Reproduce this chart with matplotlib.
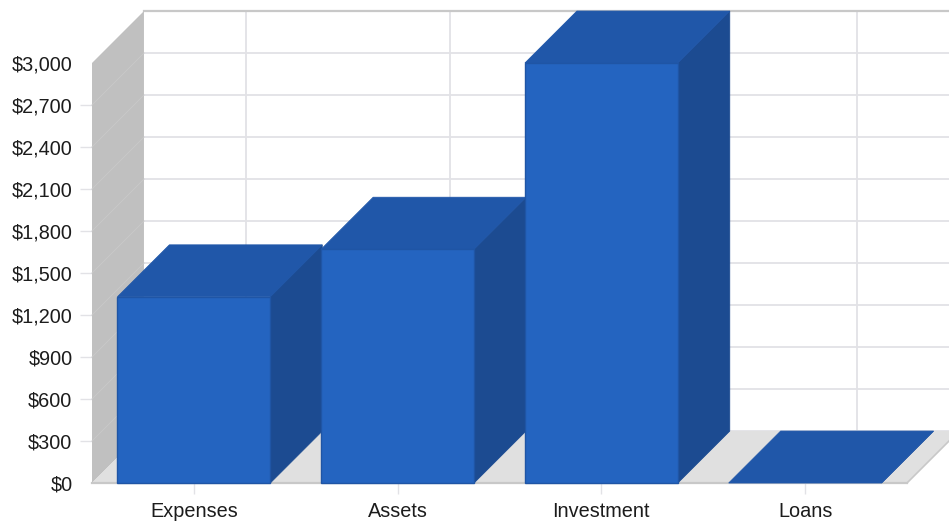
"""Pseudo-3D column chart of start-up figures in an oblique projection."""
import matplotlib
matplotlib.use("Agg")
import matplotlib.pyplot as plt

plt.rcParams["font.family"] = ["Liberation Sans", "DejaVu Sans"]

categories = ["Expenses", "Assets", "Investment", "Loans"]
values = [1330, 1670, 3000, 0]
y_ticks = [0, 300, 600, 900, 1200, 1500, 1800, 2100, 2400, 2700, 3000]

FRONT = "#2464c0"
TOP = "#2057a9"
SIDE = "#1c4b91"
EDGE = "#1f55a5"
WALL = "#c0c0c0"
WALL_LINE = "#c8c8c8"
FLOOR = "#e0e0e0"
GRID = "#e2e2e6"
AXIS = "#c8c8c8"

BAR_WIDTH = 0.75
# Oblique offset of the back plane, in data units.
DEPTH_X = 0.255
DEPTH_Y = 371


def main():
    W, H = 949, 524
    fig = plt.figure(figsize=(W / 100, H / 100), dpi=100, facecolor="white")
    ax = fig.add_axes([92 / W, (H - 483) / H, 815 / W, 420 / H])
    ax.set_xlim(-0.5, len(categories) - 0.5)
    ax.set_ylim(0, max(y_ticks))
    ax.patch.set_visible(False)
    for s in ax.spines.values():
        s.set_visible(False)

    x0, x1 = ax.get_xlim()
    y_top = max(y_ticks)

    # Back wall grid, then left wall and floor
    for v in y_ticks[:-1]:
        ax.plot([x0 + DEPTH_X, x1 + DEPTH_X], [v + DEPTH_Y] * 2, color=GRID,
                lw=1.3, clip_on=False, zorder=1)
    for i in range(len(categories)):
        ax.plot([i + DEPTH_X] * 2, [DEPTH_Y, y_top + DEPTH_Y], color=GRID,
                lw=1.3, clip_on=False, zorder=1)
    ax.plot([x0 + DEPTH_X, x1 + DEPTH_X], [y_top + DEPTH_Y] * 2, color=AXIS,
            lw=1.6, clip_on=False, zorder=1)

    ax.fill([x0, x0 + DEPTH_X, x0 + DEPTH_X, x0],
            [0, DEPTH_Y, y_top + DEPTH_Y, y_top],
            color=WALL, lw=0, clip_on=False, zorder=2)
    for v in y_ticks[1:-1]:
        ax.plot([x0, x0 + DEPTH_X], [v, v + DEPTH_Y], color=WALL_LINE, lw=0.7,
                clip_on=False, zorder=2)
    ax.fill([x0, x1, x1 + DEPTH_X, x0 + DEPTH_X], [0, 0, DEPTH_Y, DEPTH_Y],
            color=FLOOR, lw=0, clip_on=False, zorder=2)
    ax.plot([x1, x1 + DEPTH_X], [0, DEPTH_Y], color=AXIS, lw=1.2,
            clip_on=False, zorder=2)
    ax.plot([x0, x1], [0, 0], color=AXIS, lw=1.6, clip_on=False, zorder=2)

    # Columns, left to right so each one sits over its neighbour's side face
    for i, v in enumerate(values):
        z = 3 + i
        l, r = i - BAR_WIDTH / 2, i + BAR_WIDTH / 2
        ax.fill([r, r + DEPTH_X, r + DEPTH_X, r], [0, DEPTH_Y, v + DEPTH_Y, v],
                facecolor=SIDE, edgecolor=SIDE, lw=0.6, clip_on=False, zorder=z)
        ax.fill([l, r, r + DEPTH_X, l + DEPTH_X], [v, v, v + DEPTH_Y, v + DEPTH_Y],
                facecolor=TOP, edgecolor=TOP, lw=0.6, clip_on=False, zorder=z)
        if v > 0:
            ax.fill([l, r, r, l], [0, 0, v, v], facecolor=FRONT, edgecolor=EDGE,
                    lw=1.0, clip_on=False, zorder=z)

    ax.set_yticks(y_ticks, [f"${v:,}" for v in y_ticks])
    ax.set_xticks(range(len(categories)), categories)
    ax.tick_params(axis="y", length=8.6, width=1.0, color=GRID, pad=5.5,
                   labelsize=14.3, labelcolor="#1c1c1c")
    ax.tick_params(axis="x", length=8.0, width=1.0, color=GRID, pad=5.5,
                   labelsize=14.3, labelcolor="#1c1c1c")
    # The end labels carry no tick mark
    yt = ax.yaxis.get_major_ticks()
    yt[0].tick1line.set_visible(False)
    yt[-1].tick1line.set_visible(False)

    fig.savefig("out.png", dpi=100, facecolor="white")
    plt.close(fig)


if __name__ == "__main__":
    main()
